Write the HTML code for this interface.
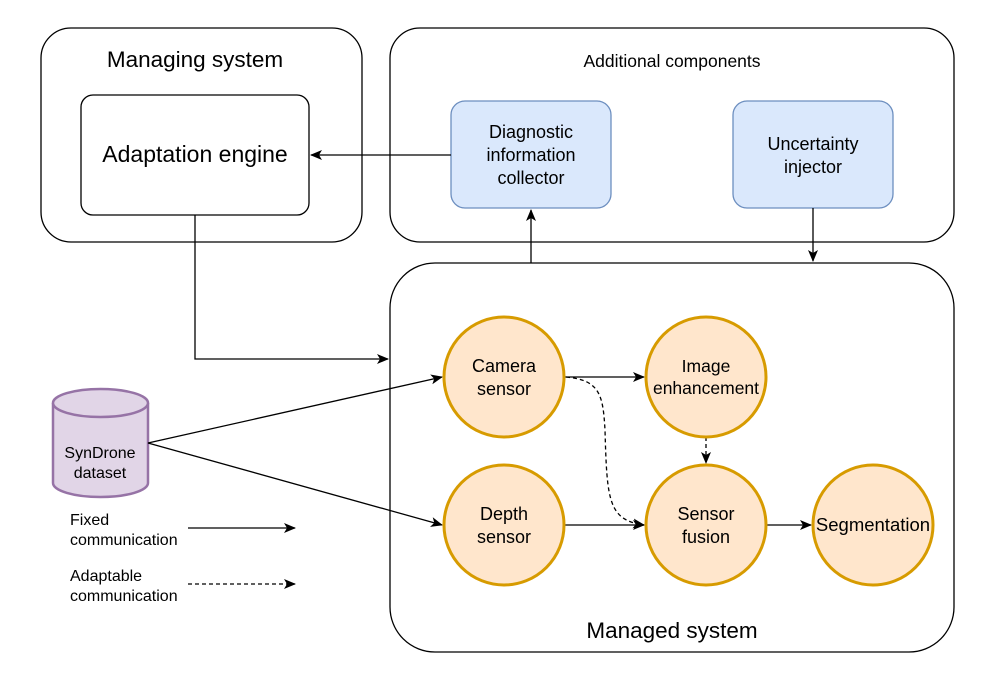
<!DOCTYPE html>
<html><head><style>body{margin:0;background:#fff}svg{display:block}text{font-family:"Liberation Sans",Arial,sans-serif;fill:#000}</style></head><body>
<svg width="996" height="681" viewBox="0 0 996 681" xmlns="http://www.w3.org/2000/svg">
<defs><marker id="a" markerWidth="12" markerHeight="12" refX="11" refY="6" orient="auto" markerUnits="userSpaceOnUse"><path d="M0,1 L12,6 L0,11 L3,6 Z" fill="#000"/></marker></defs>
<g fill="none" stroke="#000" stroke-width="1.3">
<rect x="41" y="28" width="321" height="214" rx="30"/>
<rect x="81" y="95" width="228" height="120" rx="12"/>
<rect x="390" y="28" width="564" height="214" rx="30"/>
<rect x="390" y="263" width="564" height="389" rx="45"/>
</g>
<rect x="451" y="101" width="160" height="107" rx="14" fill="#dae8fc" stroke="#6c8ebf" stroke-width="1.3"/>
<rect x="733" y="101" width="160" height="107" rx="14" fill="#dae8fc" stroke="#6c8ebf" stroke-width="1.3"/>
<g fill="#e1d5e7" stroke="#9673a6" stroke-width="2.5">
<path d="M53,403 L53,483 A47.5,14 0 0 0 148,483 L148,403"/>
<ellipse cx="100.5" cy="403" rx="47.5" ry="14"/>
</g>
<g fill="none" stroke="#000" stroke-width="1.3" marker-end="url(#a)">
<path d="M451,155 L311,155"/>
<path d="M195,215 L195,359 L388,359"/>
<path d="M531,263 L531,210"/>
<path d="M813,208 L813,261"/>
<path d="M148,443 L442,377"/>
<path d="M148,443 L442,525"/>
<path d="M564,377 L644,377"/>
<path d="M564,525 L644,525"/>
<path d="M766,525 L811,525"/>
<path d="M188,528 L295,528"/>
</g>
<g fill="none" stroke="#000" stroke-width="1.3" stroke-dasharray="4,3" marker-end="url(#a)">
<path d="M706,437 L706,463"/>
<path d="M566,377 C600,380 603,395 605,430 C607,500 608,520 644,525"/>
<path d="M188,584 L295,584"/>
</g>
<g fill="#ffe6cc" stroke="#d79b00" stroke-width="3">
<circle cx="504" cy="377" r="60"/><circle cx="706" cy="377" r="60"/>
<circle cx="504" cy="525" r="60"/><circle cx="706" cy="525" r="60"/>
<circle cx="873" cy="525" r="60"/>
</g>
<g text-anchor="middle">
<text x="195" y="67" font-size="22.5">Managing system</text>
<text x="195" y="162" font-size="23">Adaptation engine</text>
<text x="672" y="67" font-size="17.5">Additional components</text>
<text x="531" y="138" font-size="18">Diagnostic</text>
<text x="531" y="161" font-size="18">information</text>
<text x="531" y="184" font-size="18">collector</text>
<text x="813" y="150" font-size="18">Uncertainty</text>
<text x="813" y="173" font-size="18">injector</text>
<text x="672" y="638" font-size="22.5">Managed system</text>
<text x="504" y="372" font-size="18">Camera</text><text x="504" y="395" font-size="18">sensor</text>
<text x="706" y="372" font-size="17.5">Image</text><text x="706" y="394" font-size="17.5">enhancement</text>
<text x="504" y="520" font-size="18">Depth</text><text x="504" y="543" font-size="18">sensor</text>
<text x="706" y="520" font-size="18">Sensor</text><text x="706" y="543" font-size="18">fusion</text>
<text x="873" y="531" font-size="18.5">Segmentation</text>
<text x="100" y="458" font-size="16">SynDrone</text><text x="100" y="478" font-size="16">dataset</text>
</g>
<g font-size="16">
<text x="70" y="525">Fixed</text><text x="70" y="545">communication</text>
<text x="70" y="581">Adaptable</text><text x="70" y="601">communication</text>
</g>
</svg>
</body></html>
